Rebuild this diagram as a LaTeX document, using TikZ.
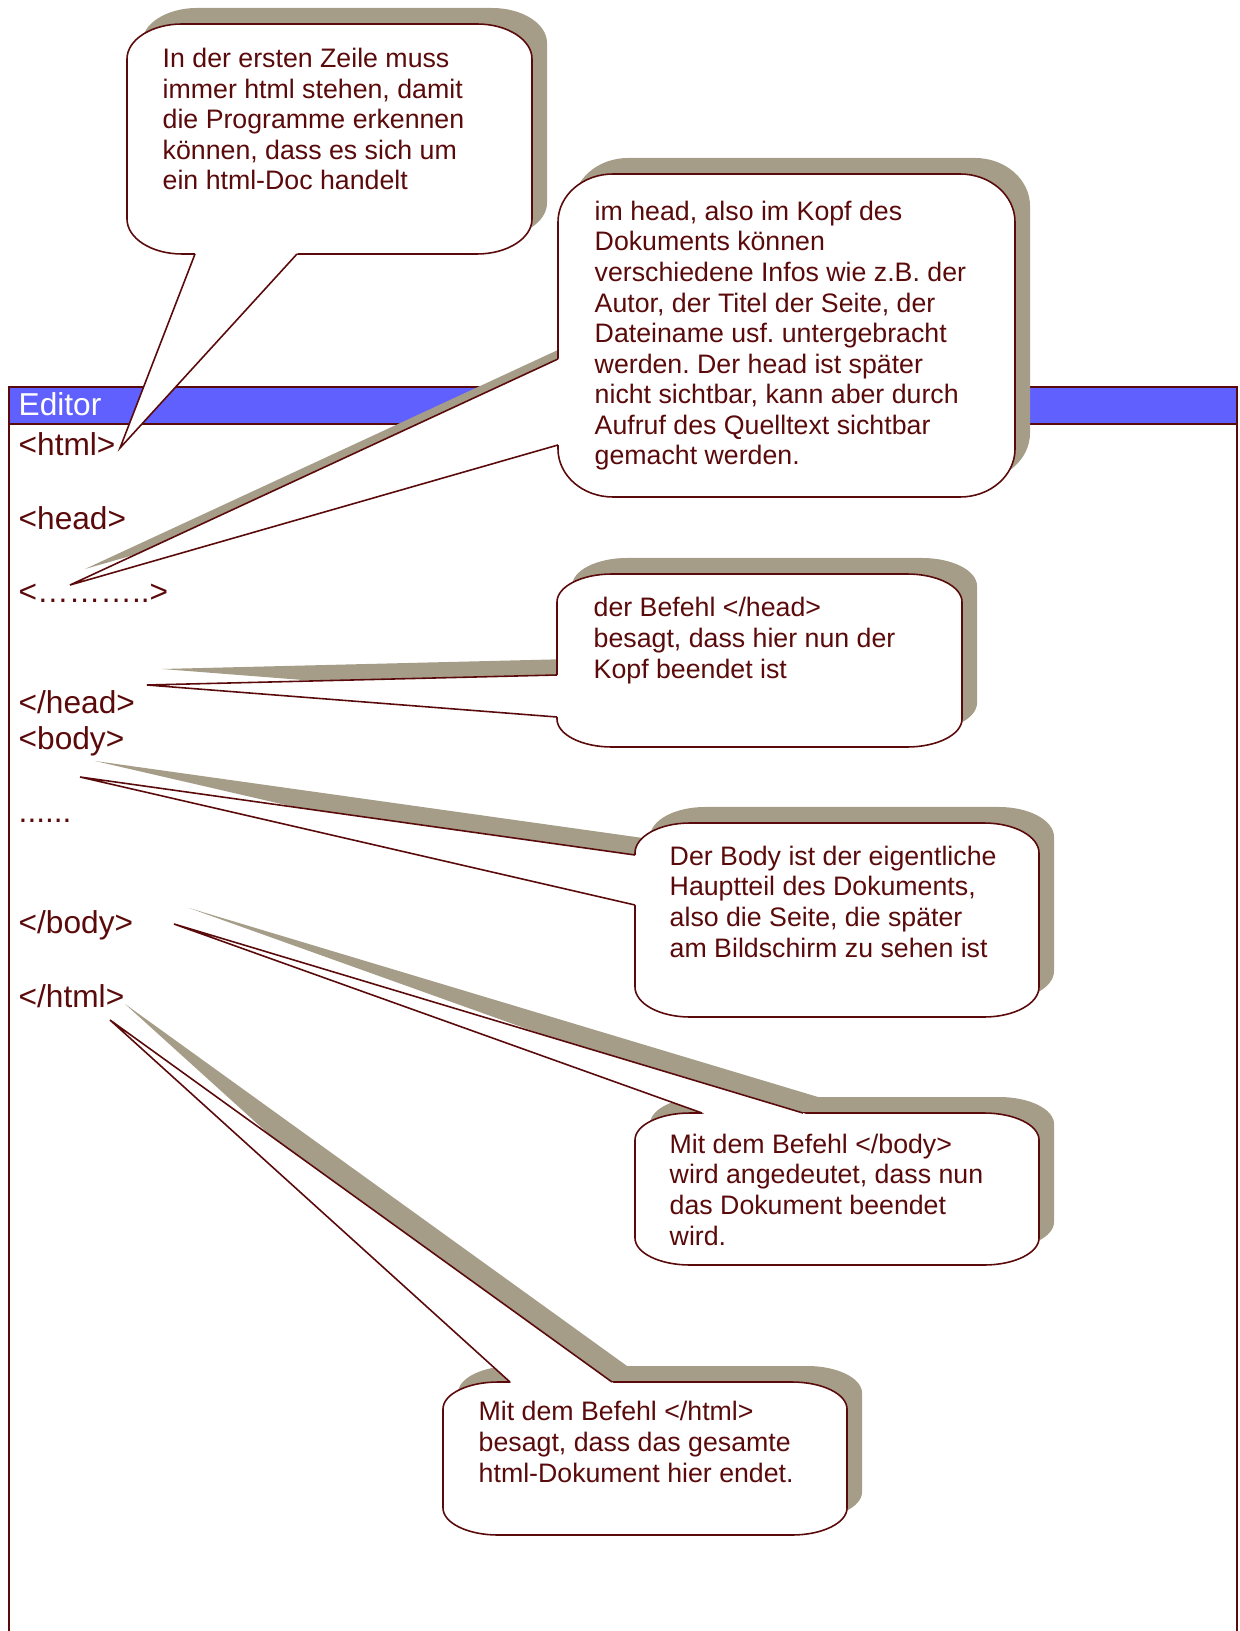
\documentclass[tikz,border=0pt]{standalone}
\usepackage{fontspec}
\setmainfont{Liberation Sans}
\usetikzlibrary{calc}
\tikzset{>=latex}
\frenchspacing
\definecolor{myred1}{RGB}{90, 10, 10}
\definecolor{mygray1}{RGB}{165, 157, 135}
\definecolor{myblue1}{RGB}{96, 96, 255}
\tikzset{
  tag/.style={anchor=base west, inner sep=0, text=myred1, font=\fontsize{9}{10.4}\selectfont},
  note/.style={anchor=base west, inner sep=0, align=left, text=myred1, font=\fontsize{7.6}{8.7}\selectfont},
  outline/.style={draw=myred1, line width=0.45pt},
  shadowed/.style={fill=mygray1, transform canvas={xshift=0.15cm, yshift=0.16cm}},
}
% box with round corners: left, top, right, bottom, x radius, y radius
\newcommand{\cbox}[6]{({#1},{#2+#6}) -- ({#1},{#4-#6}) arc[start angle=180, end angle=90, x radius=#5, y radius=#6] -- ({#3-#5},{#4}) arc[start angle=90, end angle=0, x radius=#5, y radius=#6] -- ({#3},{#2+#6}) arc[start angle=0, end angle=-90, x radius=#5, y radius=#6] -- ({#1+#5},{#2}) arc[start angle=-90, end angle=-180, x radius=#5, y radius=#6] -- cycle}
% pointer from the box to the tip
\newcommand{\pointer}[3]{\fill[white] (#1) -- ($(#1)!1.03!(#2)$) -- ($(#1)!1.03!(#3)$) -- cycle;
  \draw[outline] (#2) -- (#1) -- (#3);}

\begin{document}
\begin{tikzpicture}[x=0.01cm, y=-0.01cm]
\useasboundingbox (0,0) rectangle (1239,1631);

% the editor
\fill[myblue1] (9,387) rectangle (1237,424);
\draw[myred1, line width=0.6pt] (9,1640) -- (9,387) -- (1237,387) -- (1237,1640);
\draw[myred1, line width=0.6pt] (9,424) -- (1237,424);
\node[tag, text=white] (editor) at (18,416) {Editor};

\node[tag] (html) at (18,456) {<html>};
\node[tag] (head) at (18,529) {<head>};
\node[tag] (dots) at (18,603) {<………..>};
\node[tag] (headend) at (18,713) {</head>};
\node[tag] (body) at (18,749) {<body>};
\node[tag] (more) at (18,822) {......};
\node[tag] (bodyend) at (18,933) {</body>};
\node[tag] (htmlend) at (18,1007) {</html>};

\coordinate (tip1) at (120,448);
\coordinate (tip2) at (70,585);
\coordinate (tip3) at (147,685);
\coordinate (tip4) at (80,777);
\coordinate (tip5) at (174,924);
\coordinate (tip6) at (110,1020);

% first line (text placed by its last line)
\coordinate (a1) at (195,254);
\coordinate (b1) at (297,254);
\fill[shadowed] \cbox{127}{24}{532}{254}{55}{35};
\draw[outline, fill=white] \cbox{127}{24}{532}{254}{55}{35};
\pointer{tip1}{a1}{b1}
\node[note] (c1) at (162,190) {In der ersten Zeile muss\\immer html stehen, damit\\die Programme erkennen\\können, dass es sich um\\ein html-Doc handelt};

% head
\coordinate (a2) at (558,359);
\coordinate (b2) at (558,445);
\fill[shadowed] \cbox{558}{174}{1015}{497}{55}{48};
\fill[shadowed] (tip2) -- (a2) -- (b2) -- cycle;
\draw[outline, fill=white] \cbox{558}{174}{1015}{497}{55}{48};
\pointer{tip2}{a2}{b2}
\node[note] (c2) at (594,465) {im head, also im Kopf des\\Dokuments können\\verschiedene Infos wie z.B. der\\Autor, der Titel der Seite, der\\Dateiname usf. untergebracht\\werden. Der head ist später\\nicht sichtbar, kann aber durch\\Aufruf des Quelltext sichtbar\\gemacht werden.};

% end of head
\coordinate (a3) at (557,675);
\coordinate (b3) at (557,717);
\fill[shadowed] \cbox{557}{574}{962}{747}{55}{28};
\fill[shadowed] (tip3) -- (a3) -- (b3) -- cycle;
\draw[outline, fill=white] \cbox{557}{574}{962}{747}{55}{28};
\pointer{tip3}{a3}{b3}
\node[note] (c3) at (593,678) {der Befehl </head>\\besagt, dass hier nun der\\Kopf beendet ist};

% body
\coordinate (a4) at (635,855);
\coordinate (b4) at (635,905);
\fill[shadowed] \cbox{635}{823}{1039}{1017}{55}{30};
\fill[shadowed] (tip4) -- (a4) -- (b4) -- cycle;
\draw[outline, fill=white] \cbox{635}{823}{1039}{1017}{55}{30};
\pointer{tip4}{a4}{b4}
\node[note] (c4) at (669,957) {Der Body ist der eigentliche\\Hauptteil des Dokuments,\\also die Seite, die später\\am Bildschirm zu sehen ist};

% end of body
\coordinate (a5) at (702,1113);
\coordinate (b5) at (803,1113);
\fill[shadowed] \cbox{635}{1113}{1039}{1265}{55}{27};
\fill[shadowed] (tip5) -- (a5) -- (b5) -- cycle;
\draw[outline, fill=white] \cbox{635}{1113}{1039}{1265}{55}{27};
\pointer{tip5}{a5}{b5}
\node[note] (c5) at (669,1245) {Mit dem Befehl </body>\\wird angedeutet, dass nun\\das Dokument beendet\\wird.};

% end of html
\coordinate (a6) at (510,1382);
\coordinate (b6) at (612,1382);
\fill[shadowed] \cbox{443}{1382}{847}{1535}{55}{27};
\fill[shadowed] (tip6) -- (a6) -- (b6) -- cycle;
\draw[outline, fill=white] \cbox{443}{1382}{847}{1535}{55}{27};
\pointer{tip6}{a6}{b6}
\node[note] (c6) at (478,1482) {Mit dem Befehl </html>\\besagt, dass das gesamte\\html-Dokument hier endet.};

\end{tikzpicture}
\end{document}
